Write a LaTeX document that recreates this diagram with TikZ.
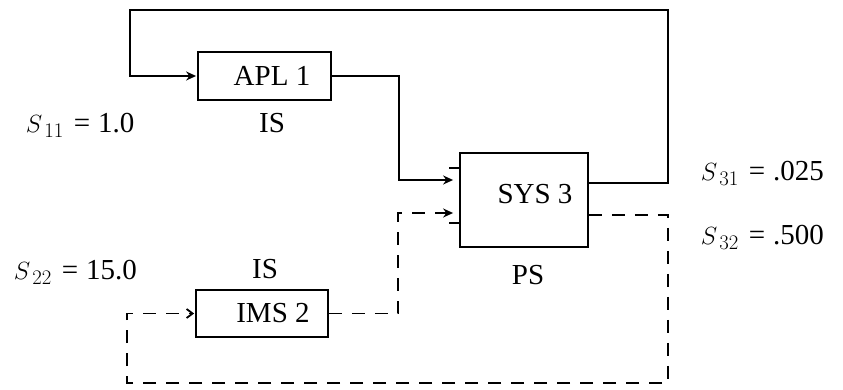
\documentclass[tikz,border=0pt]{standalone}
\usepackage{fontspec}
\setmainfont{Liberation Serif}
\usetikzlibrary{arrows.meta}
\newcommand{\slab}[2]{$S_{\,#1}$\hspace{10pt}=\hspace{8pt}#2}
\begin{document}
\begin{tikzpicture}[x=1pt,y=-1pt, line width=1.8pt,
  box/.style={draw, inner sep=0pt},
  lbl/.style={font=\fontsize{29}{31}\selectfont, inner sep=0pt},
  flow/.style={-{Stealth[length=10pt,width=9pt]}},
  barb/.style={-{Straight Barb[length=6pt,width=9pt]}},
  dsh/.style={dash pattern=on 13pt off 10pt}]
\useasboundingbox (0,0) rectangle (843,390);
% boxes
\node[box, minimum width=133pt, minimum height=48pt] (apl) at (264.5,76) {};
\node[box, minimum width=128pt, minimum height=94pt] (sys) at (524,200) {};
\node[box, minimum width=132pt, minimum height=47pt] (ims) at (262,313.5) {};
% texts
\node[lbl] (aplt) at (272,76) {APL 1};
\node[lbl] (syst) at (535,194) {SYS 3};
\node[lbl] (imst) at (273,313) {IMS 2};
\node[lbl] (is1) at (272,123) {IS};
\node[lbl] (is2) at (265,269) {IS};
\node[lbl] (ps) at (528,275) {PS};
\node[lbl, anchor=west] (s11) at (25,125) {\slab{11}{1.0}};
\node[lbl, anchor=west] (s22) at (13,272) {\slab{22}{15.0}};
\node[lbl, anchor=west] (s31) at (700,173) {\slab{31}{.025}};
\node[lbl, anchor=west] (s32) at (700,237) {\slab{32}{.500}};
% coordinates
\coordinate (o1) at (668,183);
\coordinate (tl) at (130,10);
\coordinate (k1) at (399,180);
\coordinate (k2) at (398,213);
\coordinate (o2) at (668,215);
\coordinate (bl) at (127,383);
\coordinate (st1) at (449,168);
\coordinate (st2) at (449,223);
% solid feedback to APL 1
\draw[flow, shorten >=1pt] (sys.east |- o1) -- (o1) -- (o1 |- tl) -| (tl |- apl.west) -- (apl.west);
% APL 1 to SYS 3
\draw[flow, shorten >=6pt] (apl.east) -| (k1) -- (sys.west |- k1);
% IMS 2 to SYS 3
\draw[flow, dsh, shorten >=6pt] (ims.east) -| (k2) -- (sys.west |- k2);
% dashed feedback to IMS 2
\draw[barb, dsh, shorten >=1pt] (sys.east |- o2) -- (o2) |- (bl) |- (ims.west);
% stubs on SYS 3
\draw (st1) -- (sys.west |- st1);
\draw (st2) -- (sys.west |- st2);
\end{tikzpicture}
\end{document}
